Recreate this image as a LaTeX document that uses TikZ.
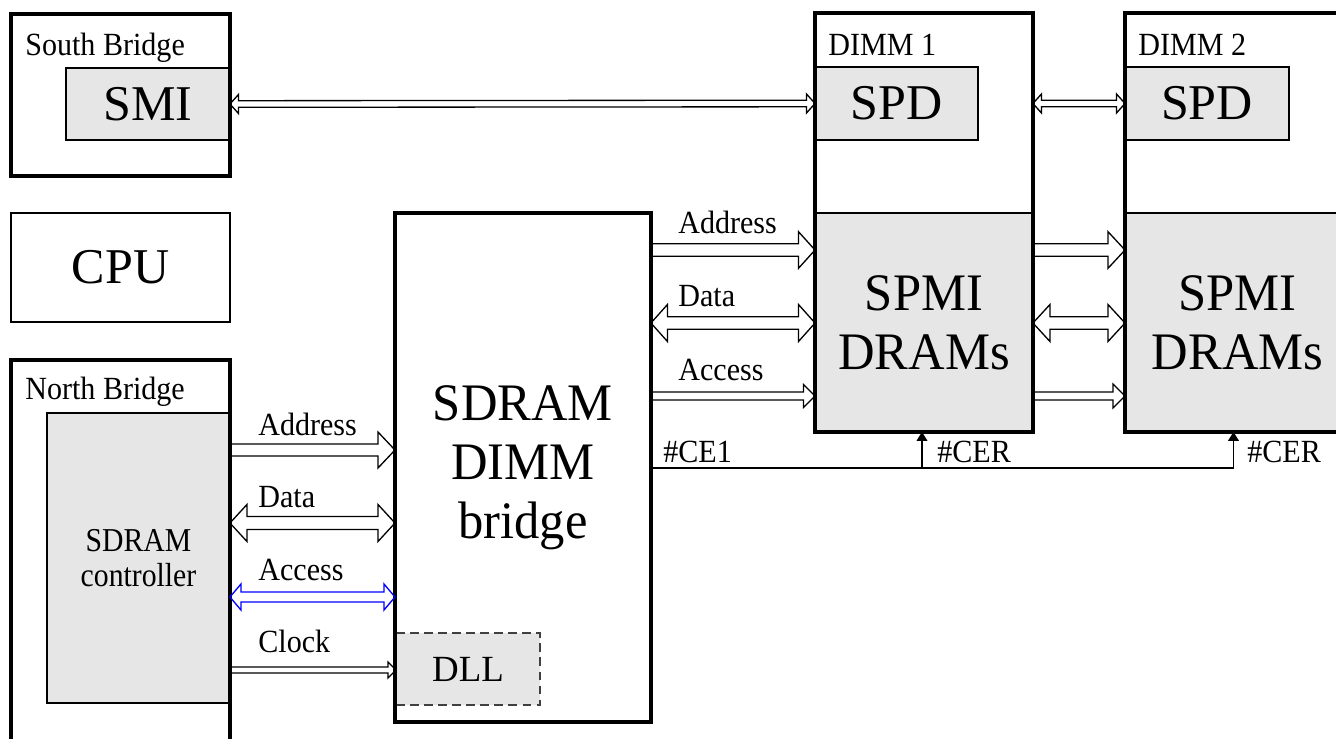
\documentclass[tikz,border=0pt]{standalone}
\usepackage{fontspec}
\setmainfont{Liberation Serif}
\newfontfamily\lblfont{Liberation Serif}[FakeStretch=0.93]
\newfontfamily\ctlfont{Liberation Serif}[FakeStretch=0.89]
\newfontfamily\bigfont{Liberation Serif}[FakeStretch=0.96]
\usetikzlibrary{positioning}
\usetikzlibrary{calc}
\usetikzlibrary{arrows.meta}
\definecolor{unitgray}{RGB}{230,230,230}
\definecolor{busblue}{RGB}{0,0,255}

\tikzset{
  frame/.style={draw, line width=2.2pt, inner sep=0pt, outer sep=0pt, anchor=north west},
  unit/.style={draw, fill=unitgray, line width=0.8pt, inner sep=0pt, outer sep=0pt, anchor=north west,
    align=center, font=\fontsize{28.5}{33}\selectfont},
  bigtext/.style={align=center, font=\bigfont\fontsize{30}{33.5}\selectfont},
  ctltext/.style={align=center, font=\ctlfont\fontsize{19}{19.5}\selectfont},
  lbl/.style={inner sep=0pt, anchor=base west, font=\lblfont\fontsize{18.4}{22}\selectfont},
  bus/.style n args={3}{line width=0.75pt, to path={
      ($(\tikztostart)+(0,#1)$) -- ($(\tikztotarget)+(-#3,#1)$) -- ($(\tikztotarget)+(-#3,#2)$)
      -- (\tikztotarget) -- ($(\tikztotarget)+(-#3,-#2)$) -- ($(\tikztotarget)+(-#3,-#1)$)
      -- ($(\tikztostart)+(0,-#1)$)}},
  bibus/.style n args={3}{line width=0.75pt, to path={
      ($(\tikztostart)+(#3,#1)$) -- ($(\tikztotarget)+(-#3,#1)$) -- ($(\tikztotarget)+(-#3,#2)$)
      -- (\tikztotarget) -- ($(\tikztotarget)+(-#3,-#2)$) -- ($(\tikztotarget)+(-#3,-#1)$)
      -- ($(\tikztostart)+(#3,-#1)$) -- ($(\tikztostart)+(#3,-#2)$) -- (\tikztostart)
      -- ($(\tikztostart)+(#3,#2)$) -- cycle}},
  sig/.style={line width=0.9pt, -{Triangle[width=6pt,length=5pt]}},
}

\begin{document}
\begin{tikzpicture}[x=0.02cm, y=-0.02cm]
	\useasboundingbox (0,0) rectangle (1336,738);
	% draw inner units
	\node[unit, minimum width=3.28cm, minimum height=1.44cm] (smi) at (66,68) {SMI};
	\node[unit, minimum width=3.26cm, minimum height=1.46cm] (spdA) at (815,67) {SPD};
	\node[unit, minimum width=3.28cm, minimum height=1.46cm] (spdB) at (1125,67) {SPD};
	\node[unit, bigtext, minimum width=4.36cm, minimum height=4.38cm] (dramA) at (815,213) {SPMI\\DRAMs};
	\node[unit, bigtext, minimum width=4.5cm, minimum height=4.38cm] (dramB) at (1125,213) {SPMI\\DRAMs};
	\node[unit, ctltext, minimum width=3.66cm, minimum height=5.8cm] (ctrl) at (47,413) {SDRAM\\controller};
	\node[unit, draw=black!75, line width=0.7pt, dash pattern=on 5pt off 3pt, font=\fontsize{21}{24}\selectfont,
		minimum width=2.88cm, minimum height=1.44cm] (dll) at (396,633) {DLL};
	% draw frames
	\node[frame, minimum width=4.38cm, minimum height=3.24cm] (south) at (11,14) {};
	\node[frame, minimum width=4.38cm, minimum height=8cm] (north) at (11,360) {};
	\node[frame, minimum width=4.36cm, minimum height=8.38cm] (dimmA) at (815,13) {};
	\node[frame, minimum width=4.5cm, minimum height=8.38cm] (dimmB) at (1125,13) {};
	\node[frame, bigtext, minimum width=5.12cm, minimum height=10.18cm] (bridge) at (395,213) {SDRAM\\DIMM\\bridge};
	\node[frame, line width=0.8pt, font=\fontsize{28.5}{33}\selectfont,
		minimum width=4.38cm, minimum height=2.18cm] (cpu) at (11,213) {CPU};
	% frame titles
	\node[lbl] (tSouth) at (25,55) {South Bridge};
	\node[lbl] (tNorth) at (25,399) {North Bridge};
	\node[lbl] (tDimmA) at (828,55) {DIMM 1};
	\node[lbl] (tDimmB) at (1138,55) {DIMM 2};
	% bus levels
	\coordinate (lvA) at (0,250);
	\coordinate (lvD) at (0,323);
	\coordinate (lvC) at (0,396);
	\coordinate (nbA) at (0,450);
	\coordinate (nbD) at (0,523);
	\coordinate (nbC) at (0,597);
	\coordinate (nbK) at (0,670);
	\coordinate (ce) at (0,468);
	% draw buses
	\draw[bibus={3.3}{9.5}{8.5}] (smi.east) to (spdA.west);
	\draw[bibus={3.3}{9.5}{8.5}] (dimmA.east |- spdA.east) to (spdB.west);
	\draw[bus={6.3}{18.3}{16.5}] (bridge.east |- lvA) to (dramA.west |- lvA);
	\draw[bibus={6.3}{18.5}{16.5}] (bridge.east |- lvD) to (dramA.west |- lvD);
	\draw[bus={4}{11.5}{11.5}] (bridge.east |- lvC) to (dramA.west |- lvC);
	\draw[bus={6.3}{18.3}{17}] (dramA.east |- lvA) to (dramB.west |- lvA);
	\draw[bibus={6.3}{18.5}{17}] (dramA.east |- lvD) to (dramB.west |- lvD);
	\draw[bus={4}{12}{12}] (dramA.east |- lvC) to (dramB.west |- lvC);
	\draw[bus={6}{18}{17}] (ctrl.east |- nbA) to (bridge.west |- nbA);
	\draw[bibus={6.5}{18.5}{17}] (ctrl.east |- nbD) to (bridge.west |- nbD);
	\draw[bibus={5}{13}{11}, draw=busblue] (ctrl.east |- nbC) to (bridge.west |- nbC);
	\draw[bus={3}{8}{8}] (ctrl.east |- nbK) to (dll.west |- nbK);
	% bus labels
	\node[lbl] (lAddrA) at (678,233) {Address};
	\node[lbl] (lDataA) at (678,306) {Data};
	\node[lbl] (lAccA) at (678,380) {Access};
	\node[lbl] (lAddrB) at (258,435) {Address};
	\node[lbl] (lDataB) at (258,507) {Data};
	\node[lbl] (lAccB) at (258,580) {Access};
	\node[lbl] (lClk) at (258,652) {Clock};
	% chip enable
	\coordinate (ceA) at ([xshift=-0.04cm]dramA.south);
	\coordinate (ceB) at ([xshift=-0.08cm]dramB.south);
	\draw[sig] (bridge.east |- ce) -| (ceB);
	\draw[sig] (ceA |- ce) -- (ceA);
	\node[lbl] (lCE) at (663,462) {\#CE1};
	\node[lbl] (lCERA) at (937,462) {\#CER};
	\node[lbl] (lCERB) at (1247,462) {\#CER};
\end{tikzpicture}
\end{document}
